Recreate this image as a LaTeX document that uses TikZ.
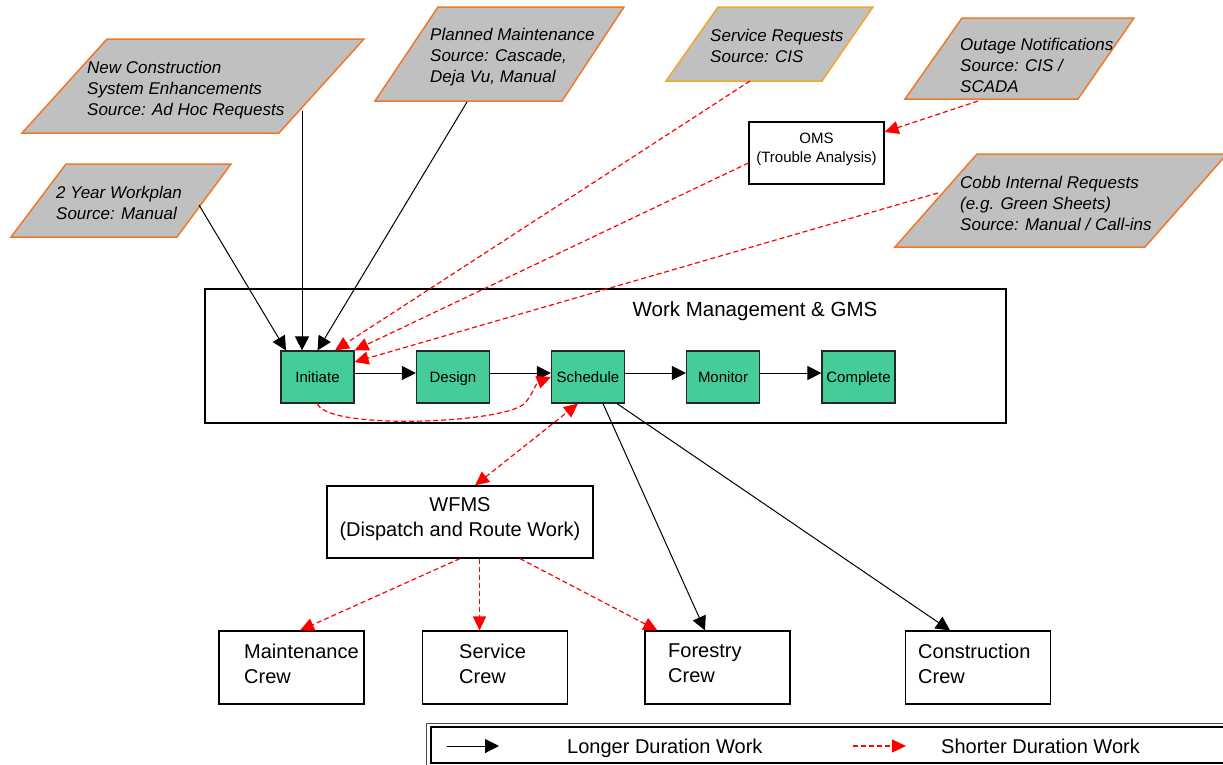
\documentclass[tikz,border=0pt]{standalone}
\usepackage{fontspec}
\setmainfont{Liberation Sans}
\usetikzlibrary{arrows.meta}

\definecolor{procgreen}{RGB}{68,204,153}
\definecolor{srcgray}{RGB}{192,192,192}
\definecolor{srcorange}{RGB}{240,120,40}
\definecolor{srcamber}{RGB}{245,165,45}
\definecolor{linkred}{RGB}{255,0,0}

\tikzset{
  srcshape/.style={fill=srcgray, draw=srcorange, line width=1.5pt, line join=miter},
  srctext/.style={anchor=north west, inner sep=0pt, align=left,
    font=\fontsize{17}{21}\selectfont\itshape},
  plainbox/.style={draw=black, line width=1.2pt, fill=white, inner sep=0pt},
  procbox/.style={draw=black!85, line width=1.2pt, fill=procgreen,
    minimum width=73pt, minimum height=52pt, inner sep=0pt,
    text height=14pt, text depth=3.3pt,
    font=\fontsize{15}{18}\selectfont},
  crewbox/.style={plainbox, minimum width=145pt, minimum height=73pt},
  bigtext/.style={inner sep=0pt, align=left, font=\fontsize{20}{25}\selectfont},
  longwork/.style={draw=black, line width=1pt, -{Triangle[length=14pt,width=14pt]}},
  shortwork/.style={draw=linkred, line width=1.2pt, dash pattern=on 5pt off 3pt,
    -{Triangle[length=14pt,width=13pt]}},
  shortboth/.style={shortwork,
    {Triangle[length=14pt,width=13pt]}-{Triangle[length=14pt,width=13pt]}},
}

\begin{document}
\begin{tikzpicture}[x=1pt, y=-1pt]
\clip (0,0) rectangle (1223,764);

% ---------- work sources ----------
\filldraw[srcshape] (107,39) -- (364,39) -- (279,133) -- (22,133) -- cycle;
\node[srctext] (nc-text) at (87,61) {New Construction\\System Enhancements\\Source: Ad Hoc Requests};
\coordinate (nc-out) at (302,111);

\filldraw[srcshape] (438,7) -- (624,7) -- (562,101) -- (375,101) -- cycle;
\node[srctext] (pm-text) at (430,28) {Planned Maintenance\\Source: Cascade,\\Deja Vu, Manual};
\coordinate (pm-out) at (467,102);

\filldraw[srcshape, draw=srcamber] (718,7) -- (873,7) -- (822,81) -- (666,81) -- cycle;
\node[srctext] (sr-text) at (710,29) {Service Requests\\Source: CIS};
\coordinate (sr-out) at (750,81);

\filldraw[srcshape] (962,18) -- (1134,18) -- (1078,99) -- (905,99) -- cycle;
\node[srctext] (on-text) at (960,38) {Outage Notifications\\Source: CIS /\\SCADA};
\coordinate (on-out) at (978,101);

\filldraw[srcshape] (977,154) -- (1227,154) -- (1145,247) -- (895,247) -- cycle;
\node[srctext] (ci-text) at (960,176) {Cobb Internal Requests\\(e.g. Green Sheets)\\Source: Manual / Call-ins};
\coordinate (ci-out) at (938,193);

\filldraw[srcshape] (66,164) -- (231,164) -- (177,237) -- (11,237) -- cycle;
\node[srctext] (wp-text) at (56,186) {2 Year Workplan\\Source: Manual};
\coordinate (wp-out) at (199,205);

% ---------- OMS ----------
\node[plainbox, minimum width=135pt, minimum height=62pt] (oms) at (816.5,153) {};
\node[inner sep=0pt, anchor=north, align=center, font=\fontsize{15}{19}\selectfont]
  (oms-text) at (816.5,133) {OMS\\(Trouble Analysis)};

% ---------- work management ----------
\node[draw=black, line width=1.2pt, minimum width=801pt, minimum height=134pt, inner sep=0pt]
  (wm) at (605.5,356) {};
\node[bigtext, anchor=north, font=\fontsize{20.5}{25}\selectfont] (wm-title) at (755,301) {Work Management \& GMS};

\node[procbox] (init)   at (317.5,377) {Initiate};
\node[procbox] (design) at (453,377)   {Design};
\node[procbox] (sched)  at (588,377)   {Schedule};
\node[procbox] (monit)  at (723,377)   {Monitor};
\node[procbox] (compl)  at (858.5,377) {Complete};

% ---------- dispatch and crews ----------
\node[plainbox, minimum width=266pt, minimum height=72pt] (wfms) at (460,522) {};
\node[bigtext, anchor=north, align=center] (wfms-text) at (460,497) {WFMS\\(Dispatch and Route Work)};

\node[crewbox] (maint) at (291.5,667.5) {};
\node[bigtext, anchor=north west] (maint-text) at (244,644) {Maintenance\\Crew};
\node[crewbox] (serv) at (495,667.5) {};
\node[bigtext, anchor=north west] (serv-text) at (459,644) {Service\\Crew};
\node[crewbox] (forest) at (717.5,667.5) {};
\node[bigtext, anchor=north west] (forest-text) at (668,644) {Forestry\\Crew};
\node[crewbox] (constr) at (978,667.5) {};
\node[bigtext, anchor=north west] (constr-text) at (918,644) {Construction\\Crew};

% ---------- longer duration flows ----------
\draw[longwork] (wp-out) -- ([xshift=-31.5pt]init.north);
\draw[longwork] (nc-out) -- ([xshift=-15.5pt]init.north);
\draw[longwork] (pm-out) -- (init.north);
\draw[longwork] ([yshift=4pt]init.east) -- ([yshift=4pt]design.west);
\draw[longwork] ([yshift=4pt]design.east) -- ([yshift=4pt]sched.west);
\draw[longwork] ([yshift=4pt]sched.east) -- ([yshift=4pt]monit.west);
\draw[longwork] ([yshift=4pt]monit.east) -- ([yshift=4pt]compl.west);
\draw[longwork] ([xshift=15pt]sched.south) -- ([xshift=-12.5pt]forest.north);
\draw[longwork] ([xshift=29pt]sched.south) -- ([xshift=-28pt]constr.north);

% ---------- shorter duration flows ----------
\draw[shortwork] (sr-out) -- ([xshift=17.5pt]init.north);
\draw[shortwork] (on-out) -- ([yshift=21pt]oms.east);
\draw[shortwork] ([yshift=-10pt]oms.west) -- (init.north east);
\draw[shortwork] (ci-out) -- ([yshift=15pt]init.east);
\draw[shortwork] (init.south) .. controls (326,430) and (500,424) .. (524,404)
  .. controls (532,396) and (536,383) .. (sched.west);
\draw[shortboth] ([xshift=15pt]wfms.north) -- ([xshift=-10pt]sched.south);
\draw[shortwork] (wfms.south) -- ([xshift=8.5pt]maint.north);
\draw[shortwork] ([xshift=19.5pt]wfms.south) -- ([xshift=-15.5pt]serv.north);
\draw[shortwork] ([xshift=60pt]wfms.south) -- ([xshift=13pt]forest.north west);

% ---------- legend ----------
\draw[draw=black!70, line width=1pt] (426,723) rectangle (1240,790);
\draw[draw=black, line width=1.5pt] (431,727) rectangle (1235,763);
\coordinate (lg-long-a) at (447,746);
\coordinate (lg-long-b) at (499,746);
\coordinate (lg-short-a) at (853,746);
\coordinate (lg-short-b) at (906,746);
\draw[longwork] (lg-long-a) -- (lg-long-b);
\draw[shortwork] (lg-short-a) -- (lg-short-b);
\node[bigtext, anchor=base west] (lg-long-text) at (567,753) {Longer Duration Work};
\node[bigtext, anchor=base west] (lg-short-text) at (941,753) {Shorter Duration Work};
\end{tikzpicture}
\end{document}
